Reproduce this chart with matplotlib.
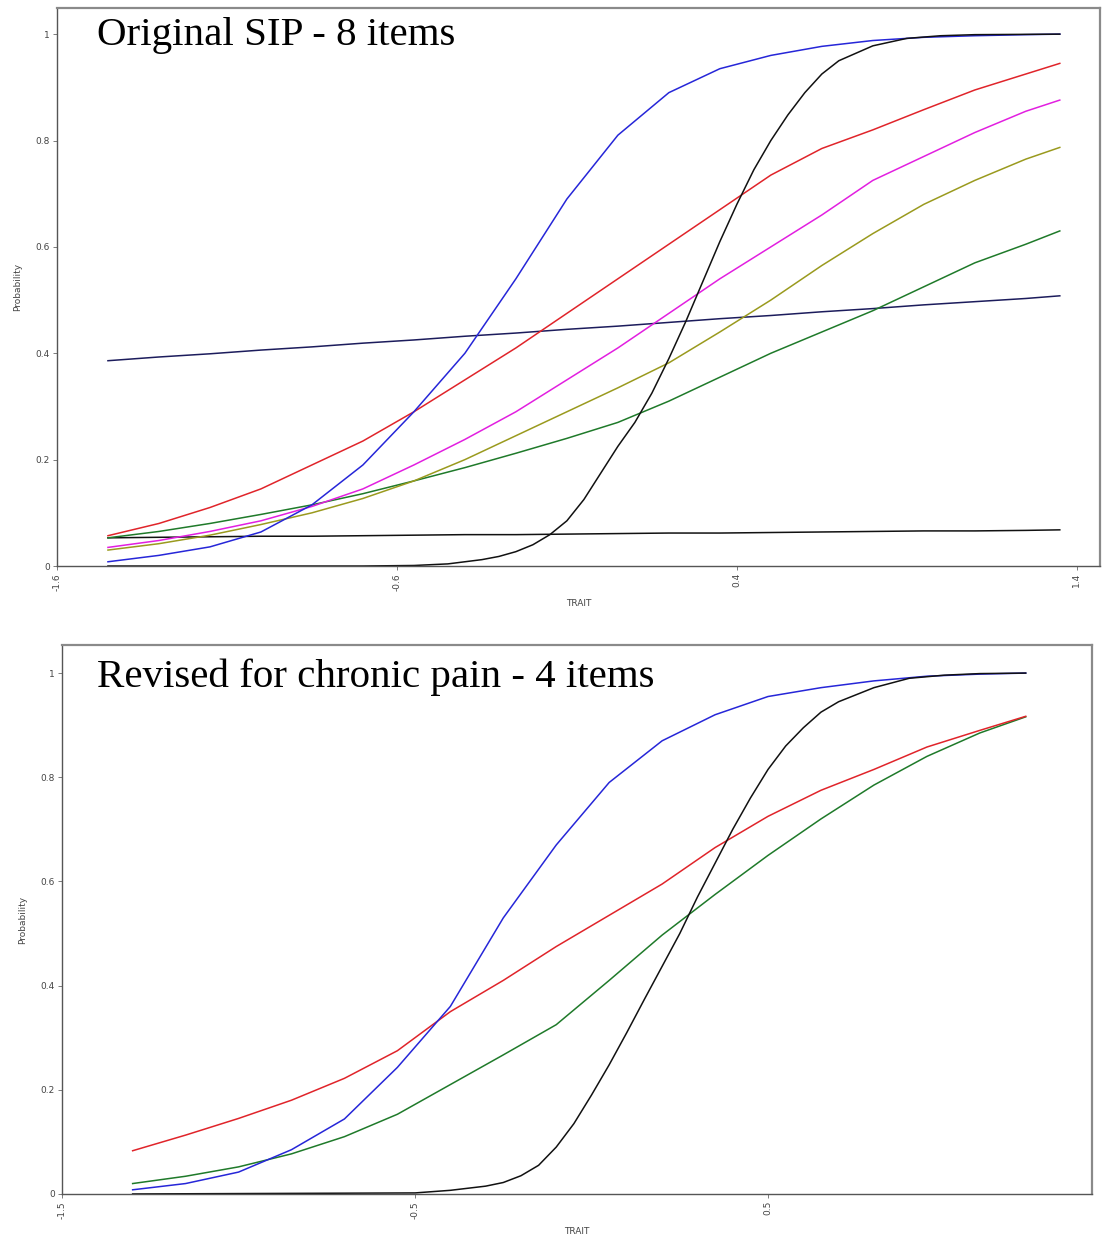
import matplotlib

matplotlib.use("Agg")
import matplotlib.pyplot as plt

trait_top = [-1.45, -1.3, -1.15, -1.0, -0.85, -0.7, -0.55, -0.4, -0.25, -0.1,
             0.05, 0.2, 0.35, 0.5, 0.65, 0.8, 0.95, 1.1, 1.25, 1.35]

sip_blue = [0.008, 0.02, 0.036, 0.064, 0.115, 0.19, 0.29, 0.40, 0.54, 0.69,
            0.81, 0.89, 0.935, 0.96, 0.977, 0.988, 0.994, 0.997, 0.999, 1.0]
sip_red = [0.057, 0.08, 0.11, 0.145, 0.19, 0.235, 0.29, 0.35, 0.41, 0.475,
           0.54, 0.605, 0.67, 0.735, 0.785, 0.82, 0.858, 0.895, 0.925, 0.945]
sip_magenta = [0.035, 0.048, 0.065, 0.085, 0.112, 0.145, 0.19, 0.238, 0.29, 0.35,
               0.41, 0.475, 0.54, 0.60, 0.66, 0.725, 0.77, 0.815, 0.855, 0.876]
sip_olive = [0.03, 0.042, 0.058, 0.078, 0.10, 0.127, 0.16, 0.20, 0.245, 0.29,
             0.335, 0.382, 0.44, 0.50, 0.565, 0.625, 0.68, 0.725, 0.765, 0.787]
sip_green = [0.053, 0.065, 0.08, 0.097, 0.115, 0.136, 0.16, 0.185, 0.212, 0.24,
             0.27, 0.31, 0.355, 0.40, 0.44, 0.48, 0.525, 0.57, 0.605, 0.63]
sip_navy_flat = [0.386, 0.393, 0.399, 0.406, 0.412, 0.419, 0.425, 0.432, 0.438, 0.445,
                 0.451, 0.458, 0.465, 0.471, 0.478, 0.484, 0.491, 0.497, 0.503, 0.508]
sip_black_flat = [0.053, 0.054, 0.055, 0.056, 0.056, 0.057, 0.058, 0.059, 0.059, 0.060,
                  0.061, 0.062, 0.062, 0.063, 0.064, 0.065, 0.066, 0.066, 0.067, 0.068]

# the steep black item was read more densely
trait_top_steep = [-1.45, -0.7, -0.55, -0.45, -0.35, -0.3, -0.25, -0.2, -0.15, -0.1,
                   -0.05, 0.0, 0.05, 0.1, 0.15, 0.2, 0.25, 0.3, 0.35, 0.4,
                   0.45, 0.5, 0.55, 0.6, 0.65, 0.7, 0.8, 0.9, 1.0, 1.1, 1.35]
sip_black = [0.0, 0.0, 0.001, 0.004, 0.012, 0.018, 0.027, 0.04, 0.059, 0.085,
             0.125, 0.175, 0.225, 0.27, 0.325, 0.39, 0.46, 0.535, 0.61, 0.68,
             0.745, 0.80, 0.848, 0.89, 0.925, 0.95, 0.978, 0.992, 0.997, 0.999, 1.0]

trait_bot = [-1.3, -1.15, -1.0, -0.85, -0.7, -0.55, -0.4, -0.25, -0.1, 0.05,
             0.2, 0.35, 0.5, 0.65, 0.8, 0.95, 1.1, 1.23]

pain_blue = [0.008, 0.02, 0.042, 0.085, 0.144, 0.243, 0.36, 0.53, 0.67, 0.79,
             0.87, 0.92, 0.955, 0.972, 0.985, 0.994, 0.998, 1.0]
pain_red = [0.083, 0.113, 0.145, 0.18, 0.222, 0.275, 0.35, 0.41, 0.475, 0.535,
            0.595, 0.665, 0.725, 0.775, 0.815, 0.858, 0.89, 0.917]
pain_green = [0.02, 0.034, 0.052, 0.077, 0.11, 0.153, 0.21, 0.267, 0.325, 0.41,
              0.497, 0.575, 0.65, 0.72, 0.785, 0.84, 0.885, 0.916]

trait_bot_steep = [-1.3, -0.5, -0.4, -0.3, -0.25, -0.2, -0.15, -0.1, -0.05, 0.0,
                   0.05, 0.1, 0.15, 0.2, 0.25, 0.3, 0.35, 0.4, 0.45, 0.5,
                   0.55, 0.6, 0.65, 0.7, 0.8, 0.9, 1.0, 1.1, 1.23]
pain_black = [0.0, 0.002, 0.007, 0.015, 0.022, 0.035, 0.055, 0.09, 0.135, 0.19,
              0.248, 0.31, 0.374, 0.437, 0.50, 0.57, 0.635, 0.70, 0.76, 0.815,
              0.86, 0.895, 0.925, 0.945, 0.972, 0.99, 0.996, 0.999, 1.0]

top_ticks = [-1.6, -0.6, 0.4, 1.4]
top_ticklabels = ["-1.6", "-0.6", "0.4", "1.4"]
bot_ticks = [-1.5, -0.5, 0.5]
bot_ticklabels = ["-1.5", "-0.5", "0.5"]
y_ticks = [0, 0.2, 0.4, 0.6, 0.8, 1]
y_ticklabels = ["0", "0.2", "0.4", "0.6", "0.8", "1"]


def style_axes(ax, xticks, xlabels, xlim, ylim_top):
    ax.set_xlim(*xlim)
    ax.set_ylim(0, ylim_top)
    ax.set_xticks(xticks)
    ax.set_xticklabels(xlabels, rotation=90)
    ax.set_yticks(y_ticks)
    ax.set_yticklabels(y_ticklabels)
    ax.tick_params(labelsize=6.5, labelcolor="#444444", length=3, width=0.6,
                   color="#666666", pad=2)
    ax.set_xlabel("TRAIT", fontsize=6.5, color="#444444", labelpad=6)
    ax.set_ylabel("Probability", fontsize=6.5, color="#444444", labelpad=10)
    for side in ("top", "right"):
        ax.spines[side].set_color("#8a8a8a")
        ax.spines[side].set_linewidth(1.6)
    for side in ("left", "bottom"):
        ax.spines[side].set_color("#555555")
        ax.spines[side].set_linewidth(1.0)


fig = plt.figure(figsize=(11.04, 12.41), dpi=100)
lw = 1.1

ax1 = fig.add_axes([0.0516, 0.5439, 0.9447, 0.4496])
ax1.plot(trait_top, sip_navy_flat, color="#1c1c5c", lw=lw)
ax1.plot(trait_top, sip_black_flat, color="#111111", lw=lw)
ax1.plot(trait_top, sip_green, color="#1f7a2a", lw=lw)
ax1.plot(trait_top, sip_olive, color="#9a9a1e", lw=lw)
ax1.plot(trait_top, sip_magenta, color="#e21fe0", lw=lw)
ax1.plot(trait_top, sip_red, color="#e0242a", lw=lw)
ax1.plot(trait_top, sip_blue, color="#2626d8", lw=lw)
ax1.plot(trait_top_steep, sip_black, color="#111111", lw=lw)
style_axes(ax1, top_ticks, top_ticklabels, (-1.6, 1.468), 1.049)

ax2 = fig.add_axes([0.0562, 0.0379, 0.933, 0.4424])
ax2.plot(trait_bot, pain_green, color="#1f7a2a", lw=lw)
ax2.plot(trait_bot, pain_red, color="#e0242a", lw=lw)
ax2.plot(trait_bot, pain_blue, color="#2626d8", lw=lw)
ax2.plot(trait_bot_steep, pain_black, color="#111111", lw=lw)
style_axes(ax2, bot_ticks, bot_ticklabels, (-1.5, 1.418), 1.054)

# panel titles sit inside the plot area, baseline placed in figure coords
title_kw = dict(ha="left", va="baseline", fontsize=29.5,
                family="Liberation Serif", color="black")
fig.text(97 / 1104, 1 - 45 / 1241, "Original SIP - 8 items", **title_kw)
fig.text(97 / 1104, 1 - 687 / 1241, "Revised for chronic pain - 4 items", **title_kw)

fig.savefig("out.png", dpi=100)
